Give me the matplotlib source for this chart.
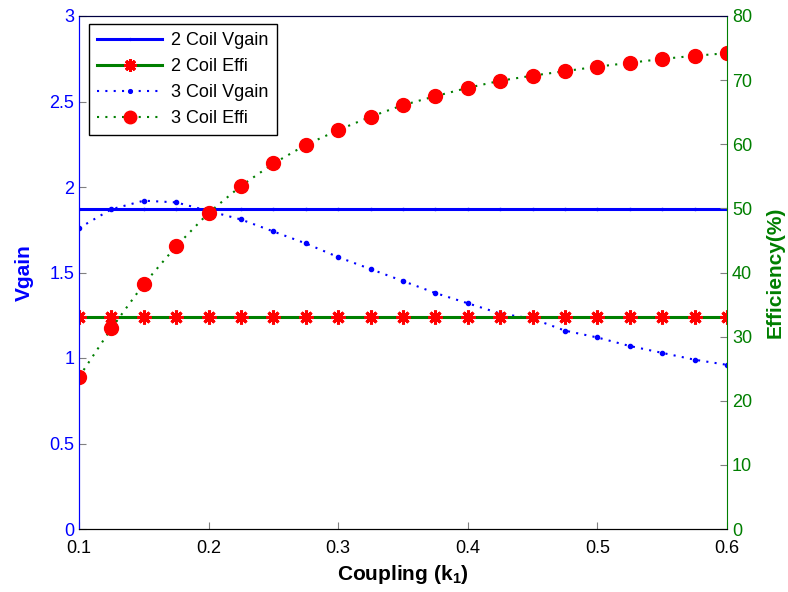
import numpy as np
import matplotlib
matplotlib.use("Agg")
import matplotlib.pyplot as plt

plt.rcParams['font.family'] = ['Liberation Sans', 'DejaVu Sans']
plt.rcParams['mathtext.fontset'] = 'custom'
plt.rcParams['mathtext.rm'] = 'Liberation Sans'
plt.rcParams['mathtext.bf'] = 'Liberation Sans:bold'

# coupling k1
k1 = [0.1, 0.125, 0.15, 0.175, 0.2, 0.225, 0.25, 0.275, 0.3, 0.325, 0.35,
      0.375, 0.4, 0.425, 0.45, 0.475, 0.5, 0.525, 0.55, 0.575, 0.6]

vgain_2coil = [1.87] * len(k1)
effi_2coil = [33.0] * len(k1)

vgain_3coil = [1.76, 1.87, 1.92, 1.91, 1.86, 1.81, 1.74, 1.67, 1.59, 1.52, 1.45,
               1.38, 1.32, 1.26, 1.23, 1.16, 1.12, 1.07, 1.03, 0.99, 0.96]
effi_3coil = [23.7, 31.3, 38.2, 44.1, 49.3, 53.5, 57.0, 59.9, 62.2, 64.3, 66.1,
              67.5, 68.8, 69.9, 70.7, 71.4, 72.1, 72.7, 73.3, 73.8, 74.2]

blue = '#0000ff'
green = '#007f00'
red = '#ff0000'

fig = plt.figure(figsize=(7.88, 5.92), dpi=100)
ax = fig.add_axes([79 / 788, 1 - 529 / 592, (727 - 79) / 788, (529 - 16) / 592])
ax2 = ax.twinx()

l1, = ax.plot(k1, vgain_2coil, color=blue, lw=2.2, marker='.', ms=3)
l3, = ax.plot(k1, vgain_3coil, color=blue, lw=1.5, ls=(0, (1, 3)), marker='.', ms=6)

l2, = ax2.plot(k1, effi_2coil, color=green, lw=2.2, marker=(8, 2, 0), ms=10,
               mec=red, mfc=red, mew=2.2)
l4, = ax2.plot(k1, effi_3coil, color=green, lw=1.5, ls=(0, (1, 3)), marker='o', ms=10,
               mec=red, mfc=red)

ax.set_xlim(0.1, 0.6)
ax.set_ylim(0, 3)
ax2.set_ylim(0, 80)
ax.set_xticks([0.1, 0.2, 0.3, 0.4, 0.5, 0.6])
ax.set_yticks([0, 0.5, 1, 1.5, 2, 2.5, 3])
ax.set_yticklabels(['0', '0.5', '1', '1.5', '2', '2.5', '3'])
ax2.set_yticks([0, 10, 20, 30, 40, 50, 60, 70, 80])

ax.tick_params(axis='x', direction='in', labelsize=13, length=5, color='gray', pad=8)
ax.tick_params(axis='y', direction='in', labelsize=13, length=5, colors=blue, color='gray')
ax2.tick_params(axis='y', direction='in', labelsize=13, length=5, colors=green, color='gray')
for lab in ax.get_yticklabels():
    lab.set_color(blue)
for lab in ax2.get_yticklabels():
    lab.set_color(green)

ax.spines['left'].set_color(blue)
ax2.spines['left'].set_color(blue)
ax2.spines['right'].set_color(green)
ax.spines['right'].set_visible(False)
ax.spines['top'].set_color('#000040')
ax2.spines['top'].set_color('#000040')

ax.set_xlabel(r'Coupling (k$_{\mathbf{1}}$)', fontsize=15, fontweight='bold', labelpad=4)
ax.set_ylabel('Vgain', fontsize=15, fontweight='bold', color=blue, labelpad=11)
ax2.set_ylabel('Efficiency(%)', fontsize=15, fontweight='bold', color=green, labelpad=10)

leg = ax2.legend([l1, l2, l3, l4],
                 ['2 Coil Vgain', '2 Coil Effi', '3 Coil Vgain', '3 Coil Effi'],
                 loc='upper left', bbox_to_anchor=(0.002, 1.002), fontsize=13,
                 fancybox=False, framealpha=1, edgecolor='black',
                 handlelength=3.6, borderpad=0.45, labelspacing=0.5, markerscale=0.9,
                 handletextpad=0.5)
leg.get_frame().set_linewidth(1.0)

fig.savefig('out.png', dpi=100)
